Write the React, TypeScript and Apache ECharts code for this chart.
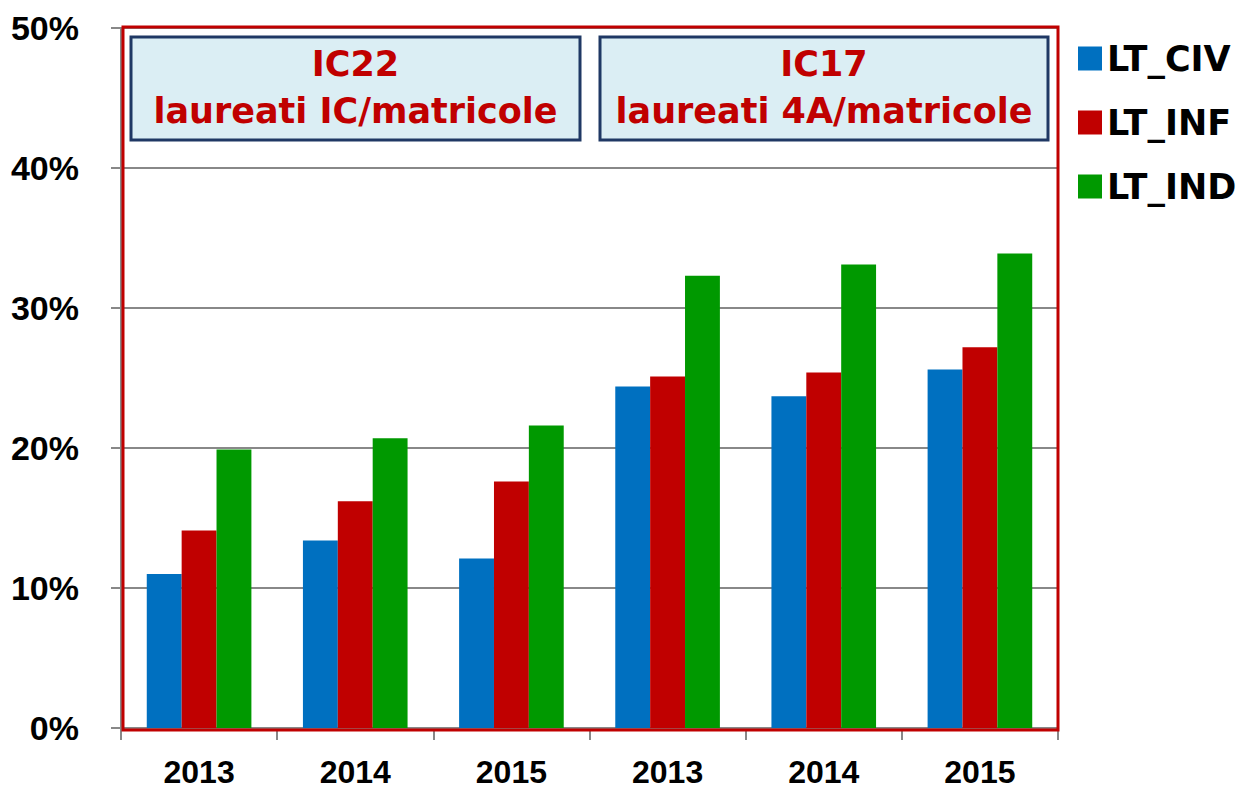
import React, { useEffect, useRef } from "react";
import * as echarts from "echarts";

const categories = ["2013", "2014", "2015", "2013", "2014", "2015"];
const ltCiv = [11.0, 13.4, 12.1, 24.4, 23.7, 25.6];
const ltInf = [14.1, 16.2, 17.6, 25.1, 25.4, 27.2];
const ltInd = [19.9, 20.7, 21.6, 32.3, 33.1, 33.9];
const seriesNames = ["LT_CIV", "LT_INF", "LT_IND"];
const seriesColors = ["#0070C0", "#C00000", "#009900"];
const boxTitles = ["IC22", "IC17"];
const boxSubtitles = ["laureati IC/matricole", "laureati 4A/matricole"];

export default function App() {
  const ref = useRef<HTMLDivElement>(null);
  useEffect(() => {
    if (!ref.current) return;
    const chart = echarts.init(ref.current, undefined, { renderer: "svg" });
    const boxFont = "bold 35px 'DejaVu Sans'";
    const boxes = [
      { x: 131, w: 449 },
      { x: 600, w: 448 },
    ];
    const graphic: any[] = [
      {
        type: "rect",
        shape: { x: 123, y: 27, width: 935, height: 703 },
        style: { fill: "transparent", stroke: "#C00000", lineWidth: 3 },
        z: 5,
        silent: true,
      },
    ];
    boxes.forEach((b, i) => {
      graphic.push({
        type: "rect",
        shape: { x: b.x, y: 37, width: b.w, height: 103 },
        style: { fill: "#DBEEF4", stroke: "#1F3864", lineWidth: 3 },
        z: 10,
      });
      graphic.push({
        type: "text",
        x: b.x + b.w / 2,
        y: 64,
        style: { text: boxTitles[i], font: boxFont, fill: "#C00000", textAlign: "center", textVerticalAlign: "middle" },
        z: 11,
      });
      graphic.push({
        type: "text",
        x: b.x + b.w / 2,
        y: 111,
        style: { text: boxSubtitles[i], font: boxFont, fill: "#C00000", textAlign: "center", textVerticalAlign: "middle" },
        z: 11,
      });
    });
    const data = [ltCiv, ltInf, ltInd];
    chart.setOption({
      animation: false,
      grid: {
        left: 121,
        right: 194,
        top: 28,
        bottom: 61,
      },
      legend: {
        orient: "vertical",
        left: 1073,
        top: 36,
        icon: "rect",
        itemWidth: 24,
        itemHeight: 24,
        itemGap: 29,
        textStyle: { fontSize: 35, fontWeight: "bold", color: "#000", fontFamily: "'DejaVu Sans'", lineHeight: 34 },
        data: seriesNames,
      },
      xAxis: {
        type: "category",
        data: categories,
        axisLine: { lineStyle: { color: "#888", width: 2 } },
        axisTick: { show: true, length: 12, interval: 0, lineStyle: { color: "#888", width: 2 } },
        axisLabel: {
          interval: 0,
          margin: 28,
          fontSize: 32,
          fontWeight: "bold",
          color: "#000",
          fontFamily: "'Liberation Sans'",
        },
      },
      yAxis: {
        type: "value",
        min: 0,
        max: 50,
        interval: 10,
        axisLine: { show: true, lineStyle: { color: "#888", width: 2 } },
        axisTick: { show: true, length: 10, lineStyle: { color: "#888", width: 2 } },
        splitLine: { lineStyle: { color: "#888", width: 2 } },
        axisLabel: {
          formatter: "{value}%",
          margin: 42,
          fontSize: 34,
          fontWeight: "bold",
          color: "#000",
          fontFamily: "'Liberation Sans'",
        },
      },
      series: seriesNames.map((n, i) => ({
        name: n,
        type: "bar",
        data: data[i],
        barGap: "0%",
        barCategoryGap: "33%",
        itemStyle: { color: seriesColors[i] },
      })),
      graphic,
    });
    return () => chart.dispose();
  }, []);
  return <div ref={ref} style={{ position: "fixed", left: 0, top: 0, width: 1252, height: 789, background: "#fff" }} />;
}
